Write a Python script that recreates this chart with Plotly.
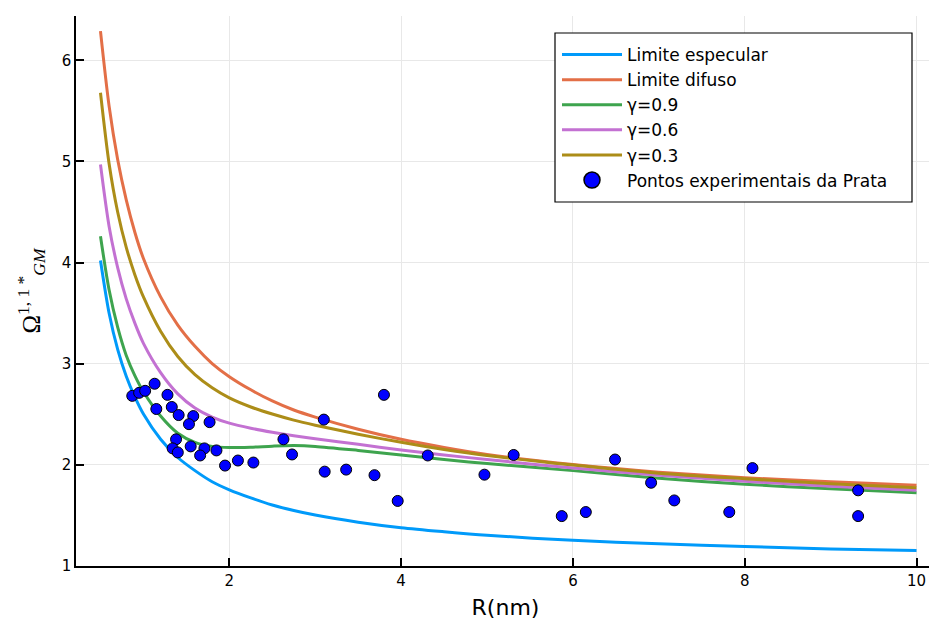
import plotly.graph_objects as go

# ---- data ----
R = [0.5, 0.6, 0.7, 0.8, 0.9, 1.0, 1.2, 1.4, 1.6, 1.8, 2.0, 2.25, 2.5, 2.75,
     3.0, 3.5, 4.0, 4.5, 5.0, 6.0, 7.0, 8.0, 9.0, 10.0]

especular = [4.02, 3.50, 3.14, 2.875, 2.67, 2.50, 2.25, 2.07, 1.94, 1.83, 1.75, 1.67,
             1.60, 1.545, 1.50, 1.43, 1.375, 1.335, 1.30, 1.25, 1.215, 1.19, 1.165, 1.15]
difuso = [6.29, 5.55, 5.02, 4.62, 4.30, 4.04, 3.66, 3.38, 3.17, 3.00, 2.87, 2.74,
          2.63, 2.54, 2.47, 2.35, 2.25, 2.17, 2.10, 2.00, 1.925, 1.87, 1.83, 1.795]
gamma09 = [4.26, 3.73, 3.36, 3.08, 2.88, 2.72, 2.48, 2.31, 2.22, 2.18, 2.168, 2.172,
           2.182, 2.188, 2.18, 2.14, 2.095, 2.05, 2.01, 1.94, 1.865, 1.805, 1.76, 1.72]
gamma06 = [4.97, 4.36, 3.95, 3.64, 3.40, 3.20, 2.91, 2.70, 2.56, 2.47, 2.41, 2.36,
           2.32, 2.285, 2.255, 2.20, 2.145, 2.095, 2.05, 1.965, 1.895, 1.835, 1.785, 1.745]
gamma03 = [5.68, 4.98, 4.50, 4.15, 3.88, 3.66, 3.32, 3.07, 2.89, 2.76, 2.66, 2.57,
           2.50, 2.44, 2.39, 2.30, 2.22, 2.15, 2.09, 1.995, 1.915, 1.86, 1.81, 1.77]

exp_R = [0.87, 0.95, 1.02, 1.13, 1.28, 1.15, 1.33, 1.41, 1.58, 1.53, 1.77, 1.38,
         1.34, 1.40, 1.55, 1.71, 1.66, 1.85, 1.95, 2.10, 2.28, 2.63, 2.73, 3.10,
         3.11, 3.80, 3.36, 3.69, 3.96, 4.31, 4.97, 5.31, 5.87, 6.15, 6.49, 6.91,
         7.18, 7.82, 8.09, 9.32, 9.32]
exp_O = [2.68, 2.71, 2.73, 2.80, 2.69, 2.55, 2.57, 2.49, 2.48, 2.40, 2.42, 2.25,
         2.16, 2.12, 2.18, 2.16, 2.09, 2.14, 1.99, 2.04, 2.02, 2.25, 2.10, 2.445,
         1.93, 2.69, 1.95, 1.895, 1.64, 2.09, 1.90, 2.095, 1.49, 1.53, 2.05, 1.82,
         1.645, 1.53, 1.965, 1.745, 1.49]

x_ticks = [2, 4, 6, 8, 10]
y_ticks = [1, 2, 3, 4, 5, 6]

series = [
    ("Limite especular", especular, "#009AFA"),
    ("Limite difuso", difuso, "#E36F47"),
    ("γ=0.9", gamma09, "#3EA44E"),
    ("γ=0.6", gamma06, "#C371D2"),
    ("γ=0.3", gamma03, "#AC8D18"),
]

PTS_NAME = "Pontos experimentais da Prata"

fig = go.Figure()
for name, vals, col in series:
    fig.add_trace(go.Scatter(x=R, y=vals, mode="lines", name=name,
                             line=dict(color=col, width=3, shape="spline", smoothing=0.8)))

fig.add_trace(go.Scatter(x=exp_R, y=exp_O, mode="markers", name=PTS_NAME,
                         showlegend=False, legendgroup="pts",
                         marker=dict(color="#0000FF", size=11,
                                     line=dict(color="black", width=1))))
# legend-only entry with a larger symbol, as in the reference legend
fig.add_trace(go.Scatter(x=[None], y=[None], mode="markers", name=PTS_NAME,
                         legendgroup="pts",
                         marker=dict(color="#0000FF", size=16,
                                     line=dict(color="black", width=1.5))))

axis_common = dict(
    showgrid=True, gridcolor="#E8E8E8", gridwidth=1,
    showline=True, linecolor="black", linewidth=1.5,
    ticks="inside", ticklen=8, tickcolor="black", tickwidth=1.5,
    zeroline=False, mirror=False, automargin=False,
    tickfont=dict(family="DejaVu Sans", size=15, color="black"),
)

# The page body adds an 8 px offset; plot area in page px: x 76..935, y 16..566
OFF = 8
pw, ph = 859.0, 550.0
bx0, bx1, by0, by1 = 555, 912, 33, 202  # legend box in page pixels

fig.update_layout(
    width=937 - OFF, height=623 - OFF,
    margin=dict(l=76 - OFF, r=2, t=16 - OFF, b=57, autoexpand=False),
    paper_bgcolor="white", plot_bgcolor="white",
    showlegend=True,
    legend=dict(x=(bx0 + 2 - 76) / pw, y=(566 - 37) / ph, xanchor="left", yanchor="top",
                bgcolor="rgba(0,0,0,0)", borderwidth=0, itemwidth=60,
                font=dict(family="DejaVu Sans", size=17, color="black"),
                tracegroupgap=0),
    shapes=[dict(type="rect", xref="paper", yref="paper", layer="above",
                 x0=(bx0 - 76) / pw, x1=(bx1 - 76) / pw,
                 y0=(566 - by1) / ph, y1=(566 - by0) / ph,
                 fillcolor="white", line=dict(color="black", width=1.2))],
    xaxis=dict(range=[0.215, 10.215], tickvals=x_ticks,
               title=dict(text="R(nm)", font=dict(family="DejaVu Sans", size=22, color="black"),
                          standoff=11),
               **axis_common),
    yaxis=dict(range=[0.996, 6.44], tickvals=y_ticks,
               title=dict(text="Ω<sup>1, 1 *</sup><sub><i>GM</i></sub>",
                          font=dict(family="Liberation Serif", size=25, color="black"),
                          standoff=14),
               **axis_common),
)

fig.write_html("out.html")
